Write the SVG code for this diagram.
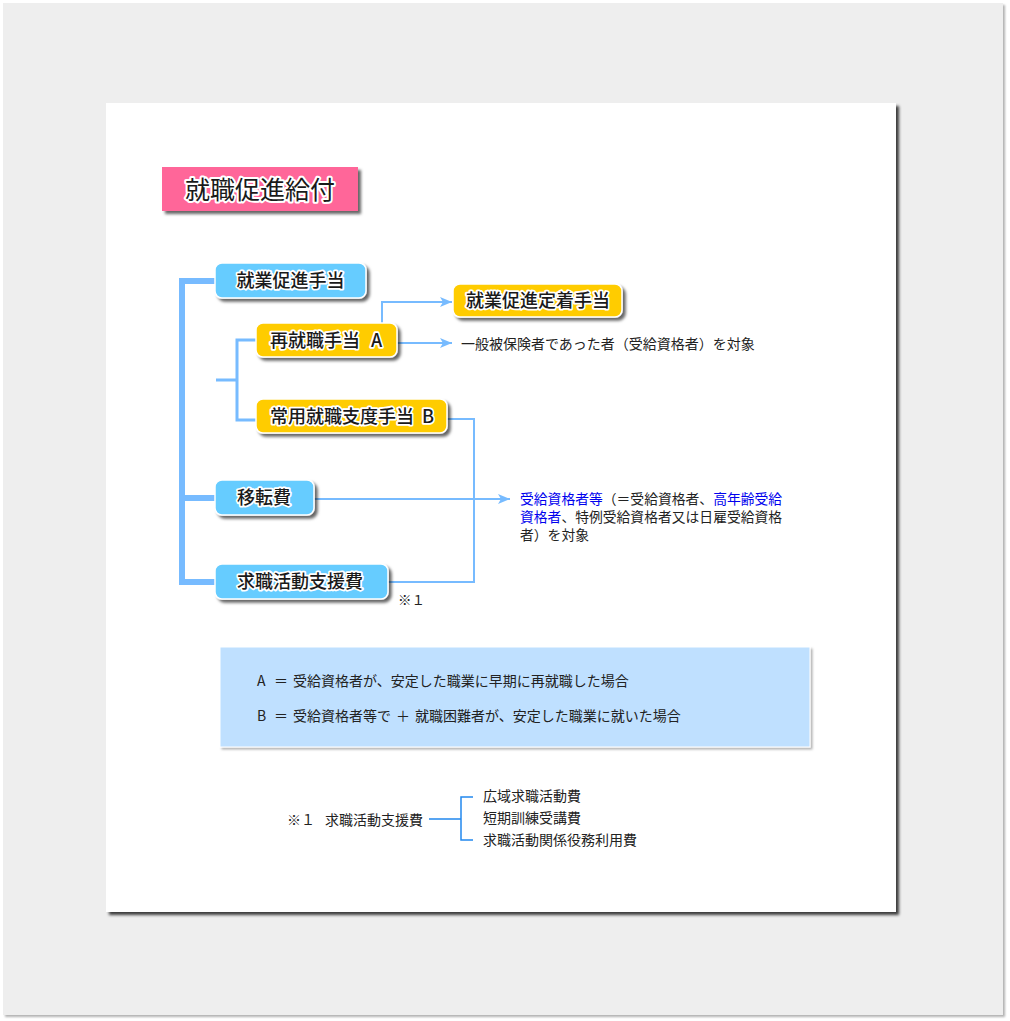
<svg xmlns="http://www.w3.org/2000/svg" width="1010" height="1021" viewBox="0 0 1010 1021">
<defs>
<filter id="sh" x="-10%" y="-10%" width="130%" height="140%">
<feDropShadow dx="3" dy="3" stdDeviation="1.5" flood-color="#000" flood-opacity="0.6"/>
</filter>
<filter id="shp" x="-5%" y="-5%" width="110%" height="110%">
<feDropShadow dx="3" dy="3" stdDeviation="1.5" flood-color="#000" flood-opacity="0.75"/>
</filter>
<filter id="sho" x="-5%" y="-5%" width="110%" height="110%">
<feDropShadow dx="2" dy="2" stdDeviation="1" flood-color="#000" flood-opacity="0.3"/>
</filter>
<marker id="arr" viewBox="0 0 12 10" refX="12" refY="5" markerWidth="12" markerHeight="10" markerUnits="userSpaceOnUse" orient="auto">
<path d="M0,0 L12,5 L0,10 L3,5 z" fill="#77bbff"/>
</marker>
</defs>
<style>
text{font-family:"Noto Sans CJK JP","Noto Sans",sans-serif;}
.lbl{font-size:18px;fill:#1a1a1a;stroke:#fff;stroke-width:3.5px;stroke-linejoin:round;paint-order:stroke;font-weight:500;}
.ttl{font-size:25px;fill:#1a1a1a;stroke:#fff;stroke-width:4px;stroke-linejoin:round;paint-order:stroke;}
.blue{fill:#66ccff;stroke:#fff;stroke-width:1.5;filter:url(#sh);}
.yel{fill:#ffcc00;stroke:#fff;stroke-width:1.5;filter:url(#sh);}
.t14{font-size:14px;fill:#222;}
.tb{font-size:13.8px;fill:#222;}
.t13{font-size:13.5px;fill:#222;}
.hl{fill:#0000ee;}
.con{fill:none;stroke:#77bbff;}
</style>
<rect x="0" y="0" width="1010" height="1021" fill="#fff"/>
<rect x="3" y="3" width="1000" height="1012" fill="#eeeeee" filter="url(#sho)"/>
<rect x="106" y="103" width="790" height="809" fill="#fff" filter="url(#shp)"/>

<g id="title">
<rect x="162" y="167" width="196" height="44" fill="#ff6699" filter="url(#sh)"/>
<text class="ttl" x="260" y="199" text-anchor="middle">就職促進給付</text>
</g>

<g id="connectors">
<path class="con" stroke-width="6" d="M215,281 H182 V582 H215 M182,498 H215"/>
<path class="con" stroke-width="3" d="M216,380 H237 M256,340 H237 V420 H256"/>
<path class="con" stroke-width="2" d="M382,323 V302 H452" marker-end="url(#arr)"/>
<path class="con" stroke-width="2" d="M397,343 H452" marker-end="url(#arr)"/>
<path class="con" stroke-width="2" d="M447,419 H474 V582 H388"/>
<path class="con" stroke-width="2" d="M314,499 H510" marker-end="url(#arr)"/>
<path fill="none" stroke="#2288ee" stroke-width="1.5" d="M429,819 H461 M473,797 H461 V840 H473"/>
</g>

<g id="n_shugyo">
<rect class="blue" x="215" y="263" width="151" height="35" rx="7"/>
<text class="lbl" x="290.5" y="287" text-anchor="middle">就業促進手当</text>
</g>
<g id="n_teichaku">
<rect class="yel" x="453" y="284" width="169" height="33" rx="7"/>
<text class="lbl" x="538" y="307" text-anchor="middle">就業促進定着手当</text>
</g>
<g id="n_saishu">
<rect class="yel" x="256" y="323" width="141" height="34" rx="7"/>
<text class="lbl" x="270" y="347">再就職手当</text>
<text class="lbl" x="371" y="347">A</text>
</g>
<g id="n_joyo">
<rect class="yel" x="256" y="399" width="191" height="34" rx="7"/>
<text class="lbl" x="270" y="423">常用就職支度手当</text>
<text class="lbl" x="422" y="423">B</text>
</g>
<g id="n_iten">
<rect class="blue" x="215" y="480" width="99" height="35" rx="7"/>
<text class="lbl" x="264" y="504" text-anchor="middle">移転費</text>
</g>
<g id="n_kyushoku">
<rect class="blue" x="215" y="564" width="173" height="35" rx="7"/>
<text class="lbl" x="300" y="588" text-anchor="middle">求職活動支援費</text>
</g>

<g id="notes">
<text class="t14" x="461" y="349">一般被保険者であった者（受給資格者）を対象</text>
<text class="tb" x="520" y="504"><tspan class="hl">受給資格者等</tspan>（＝受給資格者、<tspan class="hl">高年齢受給</tspan></text>
<text class="tb" x="520" y="522"><tspan class="hl">資格者</tspan>、特例受給資格者又は日雇受給資格</text>
<text class="tb" x="520" y="540">者）を対象</text>
<text class="t13" x="398" y="605">※１</text>
</g>

<g id="legend">
<rect x="220" y="647" width="590" height="100" fill="#bfe0ff" stroke="#fff" stroke-width="1" filter="url(#sho)"/>
<text class="t14" x="257" y="686">A<tspan x="274">＝</tspan><tspan x="293">受給資格者が、安定した職業に早期に再就職した場合</tspan></text>
<text class="t14" x="257" y="721">B<tspan x="274">＝</tspan><tspan x="293">受給資格者等で</tspan><tspan x="396">＋</tspan><tspan x="415">就職困難者が、安定した職業に就いた場合</tspan></text>
</g>

<g id="footnote">
<text class="t14" x="287" y="825">※１</text>
<text class="t14" x="325" y="825">求職活動支援費</text>
<text class="t14" x="483" y="801">広域求職活動費</text>
<text class="t14" x="483" y="823">短期訓練受講費</text>
<text class="t14" x="483" y="845">求職活動関係役務利用費</text>
</g>
</svg>
